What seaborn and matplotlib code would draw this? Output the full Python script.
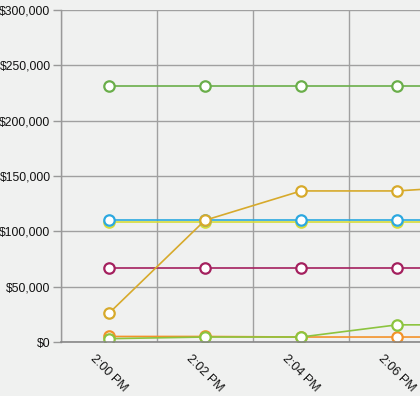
import matplotlib
matplotlib.use("Agg")
import matplotlib.pyplot as plt
import matplotlib.transforms as mtransforms
import seaborn as sns
import pandas as pd
import numpy as np
from matplotlib.ticker import FuncFormatter, FixedLocator

times = ["2:00 PM", "2:02 PM", "2:04 PM", "2:06 PM", "2:08 PM"]

series_names = ["S1", "S2", "S3", "S4", "S5", "S6", "S7"]
s_yellow = [108000, 108000, 108000, 108000, 108000]
s_blue = [110500, 110500, 110500, 110500, 110500]
s_magenta = [67000, 67000, 67000, 67000, 67000]
s_orange = [5000, 5000, 4500, 4500, 4500]
s_lightgreen = [3000, 4500, 4500, 15500, 15500]
s_darkgreen = [231000, 231000, 231000, 231000, 231000]
s_gold = [26000, 110000, 136500, 136500, 142000]

colors = ["#d6dc3a", "#2ba8e0", "#a4205e", "#f3922a", "#8cc43f", "#6aae4a", "#d7aa2b"]
all_series = [s_yellow, s_blue, s_magenta, s_orange, s_lightgreen, s_darkgreen, s_gold]

rows = []
for name, vals in zip(series_names, all_series):
    for i, v in enumerate(vals):
        rows.append({"series": name, "idx": i, "value": v})
df = pd.DataFrame(rows)

sns.set_theme(style="white")
plt.rcParams['font.family'] = ['Liberation Sans', 'DejaVu Sans']

bg = "#f0f1f0"
fig = plt.figure(figsize=(4.2, 3.96), dpi=100, facecolor=bg)
n = len(times)
left = 61 / 420
width = n * 96 / 420
bottom = 54 / 396
height = 332 / 396
ax = fig.add_axes([left, bottom, width, height])
ax.set_facecolor(bg)

sns.lineplot(data=df, x="idx", y="value", hue="series", palette=colors,
             marker="o", markersize=7.5, markerfacecolor="white",
             markeredgewidth=1.6, linewidth=1.2, dashes=False,
             legend=False, ax=ax, sort=False)
for ln, c in zip(ax.get_lines(), colors):
    ln.set_markeredgecolor(c)
    ln.set_markerfacecolor("white")

ax.set_xlim(-0.5, n - 0.5)
ax.set_ylim(0, 300000)
ax.set_yticks(np.arange(0, 300001, 50000))
ax.yaxis.set_major_formatter(FuncFormatter(lambda v, p: "${:,.0f}".format(v)))
ax.set_xticks(range(n))
ax.set_xticklabels(times, rotation=-45, ha="left", va="top", rotation_mode="anchor")
ax.xaxis.set_minor_locator(FixedLocator(np.arange(-0.5, n, 1.0)))
ax.tick_params(axis="x", which="major", length=0, pad=8, labelsize=9, colors="#111111")
ax.tick_params(axis="x", which="minor", length=6, width=1, color="#999999", direction="out")
ax.tick_params(axis="y", which="major", length=6, width=1, color="#999999",
               labelsize=8.7, labelcolor="#111111", pad=1.5, left=True)
offset = mtransforms.ScaledTranslation(-13 / 100, 0, fig.dpi_scale_trans)
for lbl in ax.get_xticklabels():
    lbl.set_color("#111111")
    lbl.set_transform(lbl.get_transform() + offset)
ax.grid(False)
ax.yaxis.grid(True, color="#a0a0a0", linewidth=1)
ax.xaxis.grid(True, which="minor", color="#a0a0a0", linewidth=1)
for s in ["top", "right"]:
    ax.spines[s].set_visible(False)
ax.spines["left"].set_color("#999999")
ax.spines["bottom"].set_color("#888888")
ax.spines["left"].set_linewidth(1)
ax.spines["bottom"].set_linewidth(1.2)
ax.set_xlabel("")
ax.set_ylabel("")
ax.set_axisbelow(True)

fig.savefig("out.png", dpi=100, facecolor=bg)
